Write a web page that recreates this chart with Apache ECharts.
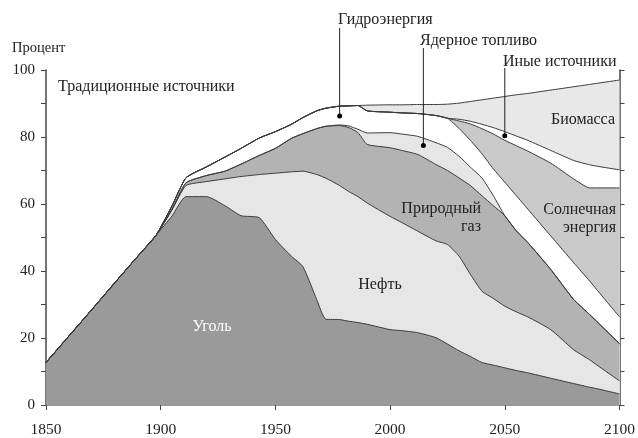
<!DOCTYPE html>
<html><head><meta charset="utf-8">
<script src="https://cdn.jsdelivr.net/npm/echarts@6/dist/echarts.min.js"></script>
<style>html,body{margin:0;padding:0;background:#fff}#c{width:638px;height:438px}</style>
</head><body><div id="c"></div>
<script>
const years   = [1850,1860,1870,1880,1890,1898,1905,1911,1920,1928,1935,1943,1950,1957,1962,1968,1972,1978,1982,1986,1990,2000,2005,2012,2020,2025,2030,2035,2040,2045,2050,2055,2060,2070,2080,2087,2090,2100];
const coal    = [12.7,20.6,28.5,36.5,44.4,50.7,56.5,62.2,62.2,59.5,56.5,55.9,49.4,44.4,41.3,31.5,25.6,25.5,25.0,24.6,24.1,22.5,22.2,21.6,20.1,18.2,16.2,14.5,12.7,11.9,11.1,10.3,9.6,8.0,6.4,5.3,4.9,3.3];
const oil     = [0,0,0,0,0,0,1.8,3.3,4.5,8.0,11.7,12.9,19.8,25.2,28.5,37.3,42.1,40.0,38.7,37.6,36.2,33.8,32.3,30.3,28.9,29.7,28.3,24.5,21.3,19.9,18.4,17.5,16.7,14.5,10.1,8.2,7.1,3.9];
const gas     = [0,0,0,0,0,0,0.2,0.8,1.8,2.3,3.7,5.7,7.4,10.0,11.2,13.7,15.5,17.9,19.1,19.1,17.5,20.5,21.5,22.9,22.8,22.1,23.3,26.5,28.5,27.7,27.0,24.2,22.2,18.0,15.0,13.5,13.0,11.1];
const nuclear = [0,0,0,0,0,0,0,0,0,0,0,0,0,0,0,0,0,0.2,0.5,1.0,3.4,4.5,4.9,5.4,6.5,6.9,6.5,5.5,5.3,3.0,0,0,0,0,0,0,0,0];
const hydro   = [0,0,0,0,0,0,1.0,1.5,2.6,4.2,4.7,5.2,5.0,4.2,4.8,5.3,5.4,5.6,6.0,7.1,6.6,6.1,6.3,6.8,8.1,8.7,8.3,8.0,7.2,8.0,10.0,10.5,10.0,10.0,11.0,10.0,9.5,8.0];
const solar   = [0,0,0,0,0,0,0,0,0,0,0,0,0,0,0,0,0,0,0,0,0,0,0,0,0,0,2.2,4.9,7.5,10.4,12.5,14.9,17.3,21.7,25.0,27.8,30.3,38.5];
const other   = [0,0,0,0,0,0,0,0,0,0,0,0,0,0,0,0,0,0,0,0,0,0,0,0,0,0,0.5,0.8,1.3,1.9,2.6,2.9,3.2,3.8,5.5,6.9,6.5,5.4];
const biomass = [0,0,0,0,0,0,0,0,0,0,0,0,0,0,0,0,0,0,0,0,1.7,2.2,2.4,2.7,3.3,4.2,4.8,5.9,7.3,8.8,10.5,12.3,14.0,18.0,22.0,24.0,24.7,26.8];

const yTicks = [0,20,40,60,80,100];
const xTicks = [1850,1900,1950,2000,2050,2100];

const layers = [
  ['Уголь', coal, '#9a9a9a'],
  ['Нефть', oil, '#e6e6e6'],
  ['Природный газ', gas, '#b3b3b3'],
  ['Ядерное топливо', nuclear, '#e6e6e6'],
  ['Гидроэнергия', hydro, '#ffffff'],
  ['Солнечная энергия', solar, '#c9c9c9'],
  ['Иные источники', other, '#ffffff'],
  ['Биомасса', biomass, '#e8e8e8']
];

const FONT = '"Liberation Serif", "DejaVu Serif", serif';
const SMOOTH = 0.18;

// cumulative table (upper edge of every layer)
const cum = [];
layers.forEach(function (L, k) {
  cum.push(years.map(function (y, i) {
    const prev = k ? cum[k - 1][i][1] : 0;
    return [y, Math.round((prev + L[1][i]) * 100) / 100];
  }));
});

const series = [];
for (let k = layers.length - 1; k >= 0; k--) {
  series.push({type:'line', name:layers[k][0], data:cum[k], symbol:'none', showSymbol:false, z:2,
    smooth:SMOOTH, lineStyle:{width:0}, areaStyle:{color:layers[k][2], opacity:1, origin:'start'}, silent:true});
}
for (let k = 0; k < layers.length; k++) {
  series.push({type:'line', name:layers[k][0] + ' line', data:cum[k], symbol:'none', showSymbol:false, z:3,
    smooth:SMOOTH, lineStyle:{width:1, color:'#3a3a3a'}, silent:true});
}

const chart = echarts.init(document.getElementById('c'), null, {renderer:'canvas'});
chart.setOption({
  animation:false,
  grid:{left:46, right:16, top:70, bottom:32},
  xAxis:[
    {type:'value', min:1850, max:2100, interval:50, position:'bottom',
     axisLine:{lineStyle:{color:'#444', width:1.5}},
     axisTick:{show:true, length:5, lineStyle:{color:'#444'}},
     axisLabel:{fontFamily:FONT, fontSize:15.5, color:'#222', margin:17,
       formatter:function (v) { return xTicks.indexOf(v) >= 0 ? String(v) : ''; }},
     splitLine:{show:false}},
    {type:'value', min:1850, max:2100, position:'top',
     axisLine:{lineStyle:{color:'#999', width:2}}, axisTick:{show:false},
     axisLabel:{show:false}, splitLine:{show:false}}
  ],
  yAxis:[
    {type:'value', min:0, max:100, interval:10, position:'left',
     axisLine:{show:true, lineStyle:{color:'#444', width:1.5}},
     axisTick:{show:true, length:5, lineStyle:{color:'#444'}},
     axisLabel:{fontFamily:FONT, fontSize:15, color:'#222', margin:11,
       formatter:function (v) { return yTicks.indexOf(v) >= 0 ? String(v) : ''; }},
     splitLine:{show:false}},
    {type:'value', min:0, max:100, interval:10, position:'right',
     axisLine:{show:true, lineStyle:{color:'#444', width:1.5}},
     axisTick:{show:true, length:5, lineStyle:{color:'#444'}},
     axisLabel:{show:false}, splitLine:{show:false}}
  ],
  series: series
});

// annotations
const callouts = [
  {text:'Гидроэнергия', tx:338, ty:20, year:1978, val:86.3, top:28},
  {text:'Ядерное топливо', tx:420, ty:41, year:2014.5, val:77.5, top:48},
  {text:'Иные источники', tx:503, ty:62, year:2050, val:80.4, top:68}
];
const g = [];
function txt(text, x, y, align, color, size) {
  return {type:'text', x:x, y:y, z:20,
    style:{text:text, fill:color || '#222', font:(size || 16) + 'px ' + FONT,
           textAlign:align || 'left', textVerticalAlign:'middle'}};
}
g.push(txt('Процент', 12, 48, 'left', '#222', 14.5));
g.push(txt('Традиционные источники', 58, 87));
g.push(txt('Биомасса', 615, 120, 'right'));
g.push(txt('Солнечная', 616, 210, 'right'));
g.push(txt('энергия', 616, 228, 'right'));
g.push(txt('Природный', 481, 209, 'right'));
g.push(txt('газ', 481, 227, 'right'));
g.push(txt('Нефть', 380, 285, 'center'));
g.push(txt('Уголь', 212, 327, 'center', '#ffffff'));
callouts.forEach(function (c) {
  const p = chart.convertToPixel({xAxisIndex:0, yAxisIndex:0}, [c.year, c.val]);
  g.push(txt(c.text, c.tx, c.ty));
  g.push({type:'line', z:20, shape:{x1:p[0], y1:c.top, x2:p[0], y2:p[1]}, style:{stroke:'#222', lineWidth:1}});
  g.push({type:'circle', z:20, shape:{cx:p[0], cy:p[1], r:2.5}, style:{fill:'#000'}});
});
chart.setOption({graphic:g});
</script></body></html>
